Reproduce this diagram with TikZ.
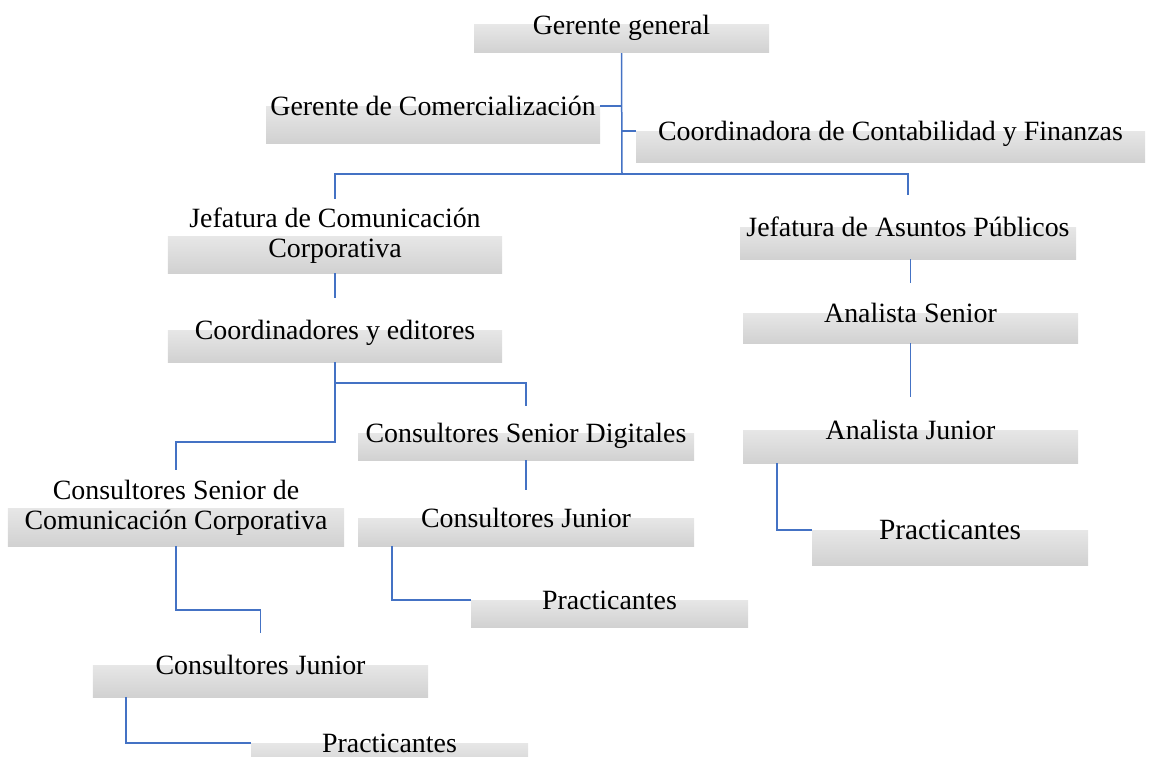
\documentclass[tikz,border=0pt]{standalone}
\usepackage{fontspec}
\setmainfont{Liberation Serif}
\usetikzlibrary{calc}
\definecolor{linkblue}{HTML}{4472C4}
\tikzset{
  boxbase/.style={rectangle, inner sep=0pt, draw=none,
    font=\fontsize{28}{30}\selectfont, align=center,
    path picture={\shade[top color=black!1, bottom color=black!18]
      (path picture bounding box.west) rectangle (path picture bounding box.south east);}},
  box/.style={boxbase, text height=22bp, text depth=3bp},
  boxtwo/.style={boxbase},
  conn/.style={draw=linkblue, line width=1.5bp}
}
\begin{document}
\begin{tikzpicture}[x=1bp,y=-1bp]
\useasboundingbox (0,0) rectangle (1152,757);
% nodes
\node[box, minimum width=295bp, minimum height=56bp] (gg) at (621.5,25) {Gerente general};
\node[box, minimum width=334bp, minimum height=74bp] (gc) at (433,106) {Gerente de Comercialización};
\node[box, minimum width=509bp, minimum height=62bp] (cf) at (890.5,131) {Coordinadora de Contabilidad y Finanzas};
\node[boxtwo, minimum width=334bp, minimum height=74bp] (jc) at (335,236) {Jefatura de Comunicación\\Corporativa};
\node[box, minimum width=334bp, minimum height=64bp] (ce) at (335,330) {Coordinadores y editores};
\node[box, minimum width=336bp, minimum height=64bp] (jap) at (908,227) {Jefatura de Asuntos Públicos};
\node[box, minimum width=335bp, minimum height=60bp] (as) at (910.5,313) {Analista Senior};
\node[box, minimum width=335bp, minimum height=66bp] (aj) at (910.5,430) {Analista Junior};
\node[box, minimum width=276bp, minimum height=70bp, font=\fontsize{29.5}{32}\selectfont] (pr) at (950,530) {Practicantes};
\node[box, minimum width=336bp, minimum height=54bp] (csd) at (526,433) {Consultores Senior Digitales};
\node[box, minimum width=336bp, minimum height=56bp] (cjm) at (526,518) {Consultores Junior};
\node[box, minimum width=277bp, minimum height=54bp] (pm) at (609.5,600) {Practicantes};
\node[boxtwo, minimum width=336bp, minimum height=76bp] (csc) at (176,508) {Consultores Senior de\\Comunicación Corporativa};
\node[box, minimum width=335bp, minimum height=64bp] (cjb) at (260.5,665) {Consultores Junior};
\node[box, minimum width=277bp, minimum height=54bp] (pb) at (389.5,743) {Practicantes};
% junction points
\coordinate (hub) at (622,174);
\coordinate (k1) at (335,442);
\coordinate (k2) at (335,383);
\coordinate (k3) at (176,610);
% connectors
\draw[conn] (gg.south) -- (hub);
\draw[conn] (gc.east) -- (gc.east -| hub);
\draw[conn] (cf.west) -- (cf.west -| hub);
\draw[conn] (jc.north) |- (hub) -| (jap.north);
\draw[conn] (jc.south) -- (ce.north);
\draw[conn] (ce.south) -- (k1) -| (csc.north);
\draw[conn] (k2) -| (csd.north);
\draw[conn] (csd.south) -- (cjm.north);
\draw[conn] ($(cjm.south west)+(34,0)$) |- (pm.west);
\draw[conn] (csc.south) -- (k3) -| (cjb.north);
\draw[conn] ($(cjb.south west)+(33,0)$) |- (pb.west);
\draw[conn] (as.north |- jap.south) -- (as.north);
\draw[conn] (as.south) -- (aj.north);
\draw[conn] ($(aj.south west)+(34,0)$) |- (pr.west);
\end{tikzpicture}
\end{document}
